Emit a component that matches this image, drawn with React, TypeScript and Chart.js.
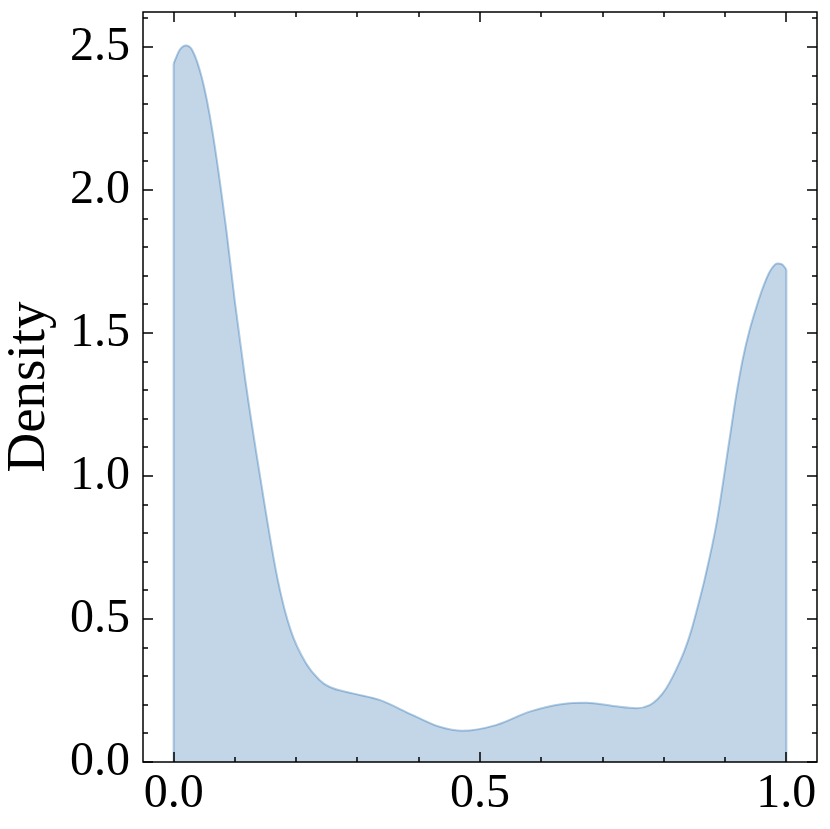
import React, { useEffect, useRef } from "react";
import { Chart, registerables } from "chart.js";

Chart.register(...registerables);

const xValues = [
  0.0, 0.01, 0.02, 0.03, 0.047, 0.063, 0.086, 0.1, 0.117, 0.142, 0.17, 0.191,
  0.216, 0.238, 0.254, 0.292, 0.336, 0.39, 0.434, 0.472, 0.526, 0.581, 0.635,
  0.673, 0.717, 0.755, 0.777, 0.79, 0.804, 0.82, 0.834, 0.845, 0.856, 0.867,
  0.886, 0.907, 0.918, 0.929, 0.94, 0.951, 0.962, 0.973, 0.985, 0.993, 1.0,
];
const densityValues = [
  2.442, 2.49, 2.505, 2.49, 2.384, 2.209, 1.86, 1.609, 1.335, 0.986, 0.636,
  0.461, 0.345, 0.287, 0.263, 0.24, 0.217, 0.164, 0.123, 0.109, 0.129, 0.176,
  0.203, 0.207, 0.196, 0.188, 0.199, 0.22, 0.258, 0.322, 0.391, 0.461, 0.548,
  0.642, 0.834, 1.125, 1.28, 1.41, 1.51, 1.59, 1.66, 1.715, 1.743, 1.74, 1.722,
];
const xTickValues = [0.0, 0.5, 1.0];
const yTickValues = [0.0, 0.5, 1.0, 1.5, 2.0, 2.5];
const xMinorStep = 0.1;
const yMinorStep = 0.1;
const yLabel = "Density";

const FONT = "'Liberation Serif', 'Times New Roman', serif";

const frameTicks = {
  id: "frameTicks",
  afterDatasetsDraw(chart: any) {
    const { ctx, chartArea } = chart;
    const { left, right, top, bottom } = chartArea;
    const xs = chart.scales.x;
    const ys = chart.scales.y;
    ctx.save();
    ctx.strokeStyle = "#000";
    ctx.lineWidth = 1.5;
    ctx.lineCap = "butt";
    const major = 10;
    const minor = 5;
    const isMajor = (v: number, arr: number[]) => arr.some((m) => Math.abs(m - v) < 1e-6);
    for (let i = Math.ceil(xs.min / xMinorStep); i * xMinorStep <= xs.max + 1e-9; i++) {
      const v = Math.round(i * xMinorStep * 1000) / 1000;
      const len = isMajor(v, xTickValues) ? major : minor;
      const px = Math.round(xs.getPixelForValue(v));
      ctx.beginPath();
      ctx.moveTo(px, bottom);
      ctx.lineTo(px, bottom - len);
      ctx.moveTo(px, top);
      ctx.lineTo(px, top + len);
      ctx.stroke();
    }
    for (let i = Math.ceil(ys.min / yMinorStep); i * yMinorStep <= ys.max + 1e-9; i++) {
      const v = Math.round(i * yMinorStep * 1000) / 1000;
      const len = isMajor(v, yTickValues) ? major : minor;
      const py = Math.round(ys.getPixelForValue(v));
      ctx.beginPath();
      ctx.moveTo(left, py);
      ctx.lineTo(left + len, py);
      ctx.moveTo(right, py);
      ctx.lineTo(right - len, py);
      ctx.stroke();
    }
    ctx.strokeRect(left, top, right - left, bottom - top);
    ctx.restore();
  },
};

export default function App() {
  const ref = useRef<HTMLCanvasElement | null>(null);
  useEffect(() => {
    if (!ref.current) return;
    const curve = xValues.map((x, i) => ({ x, y: densityValues[i] }));
    const n = densityValues.length;
    const edges = [
      { x: xValues[0], y: 0 },
      { x: xValues[0], y: densityValues[0] },
      { x: (xValues[0] + xValues[n - 1]) / 2, y: null },
      { x: xValues[n - 1], y: densityValues[n - 1] },
      { x: xValues[n - 1], y: 0 },
    ];
    const chart = new Chart(ref.current, {
      type: "line",
      data: {
        datasets: [
          {
            data: curve,
            fill: "origin",
            backgroundColor: "rgba(12,93,165,0.25)",
            borderColor: "rgba(12,93,165,0.32)",
            borderWidth: 2,
            pointRadius: 0,
            cubicInterpolationMode: "monotone",
          },
          {
            data: edges as any,
            fill: false,
            borderColor: "rgba(12,93,165,0.32)",
            borderWidth: 2,
            pointRadius: 0,
            spanGaps: false,
            tension: 0,
          },
        ],
      },
      options: {
        animation: false,
        responsive: true,
        maintainAspectRatio: false,
        layout: { padding: { top: 4, right: 5, left: 0, bottom: 0 } },
        plugins: { legend: { display: false }, tooltip: { enabled: false } },
        scales: {
          x: {
            type: "linear",
            min: -0.05,
            max: 1.05,
            grid: { display: false, drawTicks: false },
            border: { display: false },
            afterBuildTicks: (s: any) => {
              s.ticks = xTickValues.map((v) => ({ value: v }));
            },
            afterFit: (s: any) => {
              s.height = 59;
              s.paddingLeft = 0;
              s.paddingRight = 0;
            },
            ticks: {
              padding: 4,
              color: "#000",
              maxRotation: 0,
              autoSkip: false,
              font: { family: FONT, size: 48 },
              callback: (v: any) => Number(v).toFixed(1),
            },
          },
          y: {
            type: "linear",
            min: 0,
            max: 2.622,
            grid: { display: false, drawTicks: false },
            border: { display: false },
            afterBuildTicks: (s: any) => {
              s.ticks = yTickValues.map((v) => ({ value: v }));
            },
            afterFit: (s: any) => {
              s.width = 135;
              s.paddingTop = 0;
              s.paddingBottom = 0;
            },
            ticks: {
              padding: 13,
              color: "#000",
              autoSkip: false,
              font: { family: FONT, size: 48 },
              callback: (v: any) => Number(v).toFixed(1),
            },
            title: {
              display: true,
              text: yLabel,
              color: "#000",
              font: { family: FONT, size: 55 },
              padding: { top: -11, bottom: 0 },
            },
          },
        },
      },
      plugins: [frameTicks],
    });
    return () => chart.destroy();
  }, []);
  return (
    <div style={{ position: "relative", width: 814, height: 813, background: "#fff" }}>
      <canvas ref={ref} />
    </div>
  );
}
